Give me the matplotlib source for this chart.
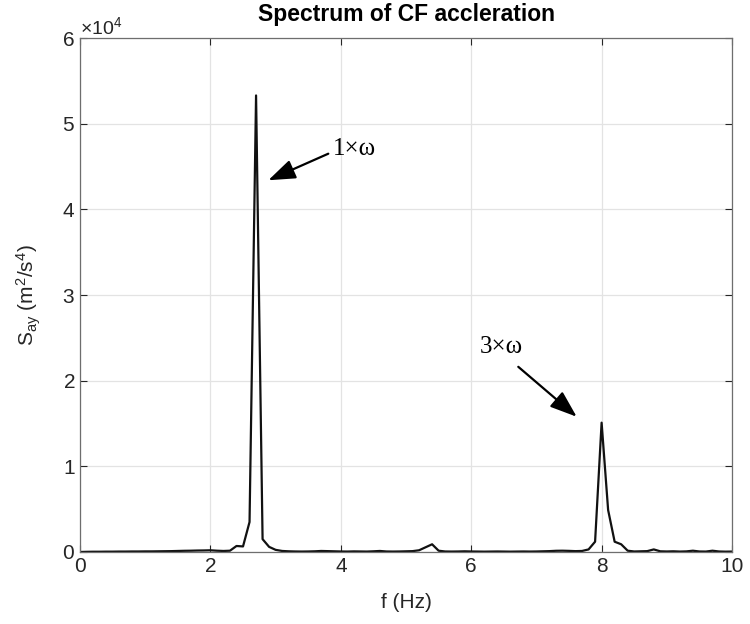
import numpy as np
import matplotlib
matplotlib.use('Agg')
import matplotlib.pyplot as plt
from matplotlib.ticker import ScalarFormatter

plt.rcParams['font.family'] = ['Liberation Sans', 'DejaVu Sans']
plt.rcParams['mathtext.default'] = 'regular'

# frequency axis (Hz), 0.1 Hz resolution
freq = np.round(np.arange(0, 101) * 0.1, 1)
# spectrum of CF acceleration, m^2/s^4
say = [0, 20, 30, 30, 40, 40, 50, 50, 60, 60, 70,
       70, 80, 90, 100, 120, 140, 150, 170, 180, 200,
       150, 120, 150, 700, 650, 3500, 53300, 1500, 600, 250,
       120, 80, 60, 50, 60, 80, 120, 100, 80, 60,
       50, 70, 60, 50, 80, 120, 60, 50, 60, 80,
       100, 200, 550, 900, 150, 60, 50, 60, 80, 60,
       50, 40, 50, 60, 50, 40, 50, 60, 50, 60,
       80, 100, 140, 150, 130, 100, 120, 300, 1200, 15100,
       4900, 1200, 900, 150, 60, 80, 100, 300, 80, 60,
       80, 50, 70, 150, 60, 50, 150, 60, 40, 50]

xticks = [0, 2, 4, 6, 8, 10]
yticks = [0, 10000, 20000, 30000, 40000, 50000, 60000]

fig = plt.figure(figsize=(7.5, 6.24), dpi=100)
ax = fig.add_axes([0.1067, 0.1154, 0.8693, 0.8236])

ax.plot(freq, say, color='#111111', lw=1.6)

ax.set_xlim(0, 10)
ax.set_ylim(0, 60000)
ax.set_xticks(xticks)
ax.set_yticks(yticks)
fmt = ScalarFormatter(useMathText=True)
fmt.set_powerlimits((0, 0))
ax.yaxis.set_major_formatter(fmt)
ax.yaxis.get_offset_text().set_fontsize(14)
ax.yaxis.get_offset_text().set_color('#262626')

ax.grid(True, color='#e3e3e3', lw=0.9)
ax.set_axisbelow(True)
ax.tick_params(direction='in', top=True, right=True, labelsize=15,
               colors='#262626', length=5, width=0.8)
for s in ax.spines.values():
    s.set_color('#6e6e6e')
    s.set_linewidth(0.9)

ax.set_title('Spectrum of CF accleration', fontsize=16.5, fontweight='bold', pad=12)
ax.set_xlabel('f (Hz)', fontsize=15, color='#262626', labelpad=12)
ax.set_ylabel('S$_{ay}$ (m$^{2}$/s$^{4}$)', fontsize=15, color='#262626', labelpad=14)

arrow = dict(arrowstyle='-|>,head_length=1.1,head_width=0.4', color='black',
             lw=1.6, mutation_scale=15, shrinkA=0, shrinkB=0)
ax.annotate('', xy=(2.888, 43400), xytext=(3.808, 46500), arrowprops=arrow)
ax.annotate('', xy=(7.618, 15790), xytext=(6.722, 21620), arrowprops=arrow)
ax.text(3.876, 47100, '1×ω', fontsize=18, family=['Liberation Serif', 'DejaVu Serif'],
        ha='left', va='center')
ax.text(6.135, 23960, '3×ω', fontsize=18, family=['Liberation Serif', 'DejaVu Serif'],
        ha='left', va='center')

plt.savefig('out.png')
